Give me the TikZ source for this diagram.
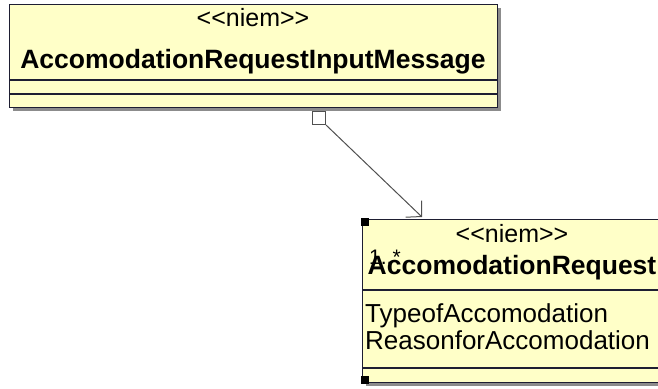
\documentclass[tikz,border=0pt]{standalone}
\usepackage{fontspec}
\setmainfont{Liberation Sans}
\usetikzlibrary{arrows.meta}
\definecolor{umlfill}{HTML}{FFFFC8}
\definecolor{umlline}{HTML}{1E1E32}
\definecolor{umlshadow}{HTML}{8C8C8C}
\definecolor{linkgray}{HTML}{505050}
\newcommand{\stereotxt}[1]{<\kern0pt<#1>\kern0pt>}
\begin{document}
\begin{tikzpicture}[x=1pt,y=-1pt,
    classbox/.style={draw=umlline,fill=umlfill,line width=1.3pt,inner sep=0pt,anchor=north west},
    divider/.style={draw=umlline,line width=1.3pt},
    stereo/.style={font=\fontsize{25}{30}\selectfont,anchor=base,inner sep=0pt},
    cname/.style={font=\fontsize{26.5}{30}\selectfont\bfseries,anchor=base,inner sep=0pt},
    attr/.style={font=\fontsize{26}{30}\selectfont,anchor=base west,inner sep=0pt},
    handle/.style={fill=black,minimum size=8pt,inner sep=0pt}]
    \useasboundingbox (0,0) rectangle (658,388);
    \clip (0,0) rectangle (658,388);
    % shadows
    \fill[umlshadow] (13,8) rectangle (501,111);
    \fill[umlshadow] (366,223) rectangle (666,386);
    % input message class
    \node[classbox,minimum width=488pt,minimum height=103pt] (msg) at (9,4) {};
    \draw[divider] (9,80) -- (497,80);
    \draw[divider] (9,94) -- (497,94);
    \node[stereo] (msgst) at (253,27) {\stereotxt{niem}};
    \node[cname] (msgname) at (253,68) {AccomodationRequestInputMessage};
    % request class
    \node[classbox,minimum width=300pt,minimum height=163pt] (req) at (362,219) {};
    \draw[divider] (362,290) -- (662,290);
    \draw[divider] (362,368) -- (662,368);
    \node[font=\fontsize{21}{24}\selectfont,anchor=base west,inner sep=0pt] (mult) at (369,264) {1..*};
    \node[stereo] (reqst) at (512,242) {\stereotxt{niem}};
    \node[cname] (reqname) at (512,274) {AccomodationRequest};
    \node[attr] (type) at (365,322) {TypeofAccomodation};
    \node[attr] (reason) at (365,349) {ReasonforAccomodation};
    \node[handle] (h1) at (365,222) {};
    \node[handle] (h2) at (365,380) {};
    % aggregation link
    \node[draw=linkgray,fill=white,line width=1pt,minimum size=13pt,inner sep=0pt] (agg) at (319,118) {};
    \coordinate (tip) at (422,217);
    \draw[linkgray,line width=1pt,-{Straight Barb[length=11pt,width=23pt]}] (agg.south east) -- (tip);
\end{tikzpicture}
\end{document}
